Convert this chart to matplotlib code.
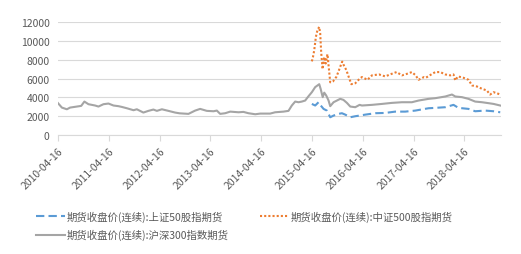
import matplotlib
matplotlib.use("Agg")
import matplotlib.pyplot as plt
import matplotlib.dates as mdates
import pandas as pd

plt.rcParams['font.family'] = ['Noto Sans CJK SC', 'DejaVu Sans']

# 沪深300指数期货 (grey)
hs300_dates = ["2010-04-16", "2010-05-15", "2010-06-20", "2010-07-13", "2010-08-31",
               "2010-10-01", "2010-10-24", "2010-11-22", "2011-01-09", "2011-02-02",
               "2011-03-10", "2011-04-15", "2011-05-21", "2011-06-26", "2011-07-20",
               "2011-08-25", "2011-10-12", "2011-11-05", "2011-12-22", "2012-01-27",
               "2012-03-03", "2012-03-28", "2012-05-03", "2012-06-19", "2012-08-06",
               "2012-09-07", "2012-11-10", "2012-12-28", "2013-02-02", "2013-03-22",
               "2013-05-09", "2013-06-02", "2013-06-26", "2013-08-01", "2013-09-06",
               "2013-11-05", "2013-12-10", "2014-01-15", "2014-03-05", "2014-04-10",
               "2014-06-20", "2014-07-26", "2014-09-24", "2014-10-30", "2014-11-23",
               "2014-12-17", "2015-01-10", "2015-02-03", "2015-02-27", "2015-03-23",
               "2015-04-16", "2015-05-10", "2015-06-08", "2015-06-18", "2015-07-03",
               "2015-07-14", "2015-07-28", "2015-08-14", "2015-08-26", "2015-09-19",
               "2015-10-13", "2015-11-06", "2015-11-29", "2015-12-24", "2016-01-17",
               "2016-02-22", "2016-03-24", "2016-04-10", "2016-06-21", "2016-09-01",
               "2016-11-11", "2017-01-22", "2017-04-04", "2017-05-22", "2017-08-02",
               "2017-09-19", "2017-11-30", "2018-01-17", "2018-02-10", "2018-03-30",
               "2018-05-16", "2018-07-03", "2018-08-21", "2018-10-07", "2018-11-12",
               "2018-12-30"]
hs300_vals = [3400, 2910, 2730, 2910, 3020,
              3090, 3550, 3270, 3130, 3020,
              3270, 3340, 3130, 3060, 2980,
              2840, 2630, 2730, 2380, 2560,
              2700, 2560, 2730, 2560, 2380,
              2300, 2240, 2590, 2770, 2560,
              2520, 2590, 2240, 2310, 2480,
              2410, 2450, 2310, 2200, 2270,
              2270, 2410, 2480, 2560, 3130,
              3550, 3480, 3550, 3660, 4120,
              4550, 5090, 5400, 4910, 4020,
              4500, 4200, 3660, 3060, 3480,
              3660, 3840, 3730, 3410, 3020,
              2950, 3200, 3130, 3200, 3300,
              3410, 3480, 3480, 3660, 3840,
              3910, 4090, 4300, 4090, 4020,
              3840, 3550, 3480, 3380, 3300,
              3130]

# 上证50股指期货 (blue)
sz50_dates = ["2015-04-16", "2015-05-10", "2015-06-03", "2015-06-15", "2015-07-09",
              "2015-08-02", "2015-08-26", "2015-09-19", "2015-10-25", "2015-11-18",
              "2015-12-12", "2016-01-17", "2016-02-22", "2016-03-24", "2016-05-04",
              "2016-07-15", "2016-09-24", "2016-12-05", "2017-02-15", "2017-04-28",
              "2017-08-02", "2017-09-19", "2017-11-30", "2018-01-28", "2018-03-05",
              "2018-05-16", "2018-07-03", "2018-09-13", "2018-11-12", "2018-12-30"]
sz50_vals = [3300, 3130, 3480, 3200, 2770,
             2590, 1880, 2060, 2240, 2310,
             2160, 1880, 1990, 2060, 2160,
             2310, 2340, 2480, 2480, 2590,
             2840, 2880, 2950, 3200, 2880,
             2770, 2520, 2590, 2520, 2410]

# 中证500股指期货 (orange)
zz500_dates = ["2015-04-16", "2015-04-24", "2015-05-03", "2015-05-15", "2015-05-26",
               "2015-06-08", "2015-06-15", "2015-06-22", "2015-07-02", "2015-07-14",
               "2015-07-24", "2015-08-06", "2015-08-20", "2015-08-26", "2015-09-15",
               "2015-10-10", "2015-10-28", "2015-11-12", "2015-11-20", "2015-12-02",
               "2015-12-20", "2016-01-10", "2016-01-25", "2016-02-22", "2016-03-24",
               "2016-04-10", "2016-05-20", "2016-06-21", "2016-08-10", "2016-09-24",
               "2016-11-11", "2016-12-15", "2017-01-22", "2017-02-15", "2017-04-04",
               "2017-05-01", "2017-05-22", "2017-06-30", "2017-07-15", "2017-08-10",
               "2017-09-19", "2017-10-25", "2017-11-30", "2018-01-05", "2018-01-28",
               "2018-02-10", "2018-03-01", "2018-04-08", "2018-05-16", "2018-06-10",
               "2018-07-15", "2018-08-21", "2018-09-25", "2018-10-18", "2018-11-12",
               "2018-12-05", "2018-12-30"]
zz500_vals = [7830, 8300, 9010, 10440, 11150,
              11500, 10790, 8800, 7000, 8300,
              7600, 8600, 6500, 5600, 5700,
              6200, 6900, 7500, 7800, 7400,
              6900, 6000, 5400, 5500, 5980,
              6160, 5870, 6340, 6440, 6230,
              6510, 6690, 6340, 6440, 6690,
              6340, 5870, 6160, 6100, 6340,
              6690, 6690, 6440, 6340, 6440,
              5800, 6230, 6090, 5870, 5270,
              5160, 4910, 4730, 4300, 4550,
              4440, 4300]

tick_dates = ["2010-04-16", "2011-04-16", "2012-04-16", "2013-04-16", "2014-04-16",
              "2015-04-16", "2016-04-16", "2017-04-16", "2018-04-16"]

labels = ["期货收盘价(连续):上证50股指期货",
          "期货收盘价(连续):中证500股指期货",
          "期货收盘价(连续):沪深300指数期货"]

blue = "#5B9BD5"
orange = "#ED7D31"
grey = "#A5A5A5"
text_c = "#595959"
grid_c = "#D9D9D9"

fig = plt.figure(figsize=(5.21, 2.55), dpi=100)
ax = fig.add_axes([0.111, 0.467, 0.851, 0.442])

l1, = ax.plot(pd.to_datetime(sz50_dates), sz50_vals, color=blue, lw=1.5,
              linestyle=(0, (4, 2)), label=labels[0])
l2, = ax.plot(pd.to_datetime(zz500_dates), zz500_vals, color=orange, lw=1.5,
              linestyle=(0, (1, 1)), label=labels[1])
l3, = ax.plot(pd.to_datetime(hs300_dates), hs300_vals, color=grey, lw=1.5,
              label=labels[2])

ax.set_ylim(0, 12000)
ax.set_yticks(range(0, 12001, 2000))
ax.set_xlim(pd.Timestamp("2010-04-16"), pd.Timestamp("2019-01-06"))
ax.set_xticks(pd.to_datetime(tick_dates))
ax.xaxis.set_major_formatter(mdates.DateFormatter("%Y-%m-%d"))

ax.grid(axis="y", color=grid_c, lw=0.8)
ax.set_axisbelow(True)
for s in ["top", "right", "left"]:
    ax.spines[s].set_visible(False)
ax.spines["bottom"].set_color(grid_c)
ax.tick_params(axis="y", length=0, labelsize=7.5, labelcolor=text_c, pad=6)
ax.tick_params(axis="x", length=4, color=grid_c, labelsize=7.5, labelcolor=text_c)
for lab in ax.get_xticklabels():
    lab.set_rotation(45)
    lab.set_ha("right")
    lab.set_rotation_mode("anchor")

fig.legend(handles=[l1, l3, l2], labels=[labels[0], labels[2], labels[1]],
           ncol=2, loc="upper left", bbox_to_anchor=(0.07, 0.17),
           frameon=False, fontsize=7.5, labelcolor=text_c,
           handlelength=2.7, handletextpad=0.2, columnspacing=3.0,
           labelspacing=0.7, borderpad=0, borderaxespad=0)

fig.savefig("out.png", dpi=100)
